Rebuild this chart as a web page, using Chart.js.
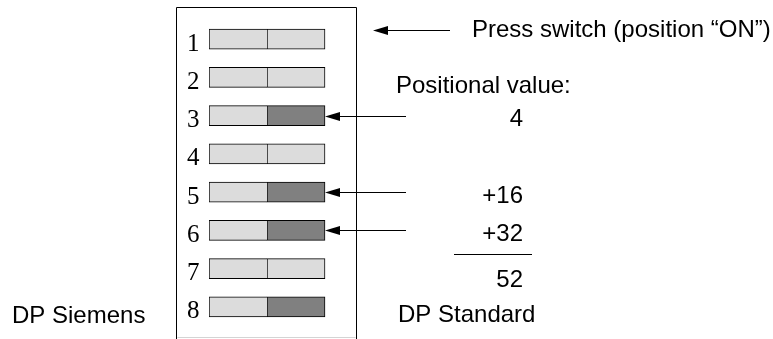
<!DOCTYPE html>
<html>
<head>
<meta charset="utf-8">
<script src="https://cdn.jsdelivr.net/npm/chart.js@4/dist/chart.umd.min.js"></script>
<style>
html, body { margin: 0; padding: 0; background: #fff; }
</style>
</head>
<body>
<canvas id="mycanvas" width="773" height="339"></canvas>
<script>
// switch positions and their state (1 = pressed / ON)
var positions = ['1', '2', '3', '4', '5', '6', '7', '8'];
var switchOn = [0, 0, 1, 0, 1, 1, 0, 1];
// address weights of switches 1..7 (switch 8 selects the DP mode)
var positionalValue = [1, 2, 4, 8, 16, 32, 64];
var leftHalf = [1, 1, 1, 1, 1, 1, 1, 1];
var rightHalf = [1, 1, 1, 1, 1, 1, 1, 1];

var topNote = 'Press switch (position \u201cON\u201d)';
var valueTitle = 'Positional value:';
var modeOff = 'DP Siemens';
var modeOn = 'DP Standard';

var light = '#dcdcdc';
var dark = '#808080';
var sans = '24px "Liberation Sans", Arial, Helvetica, sans-serif';

function arrow(ctx, tip, tail, y) {
	ctx.beginPath();
	ctx.moveTo(tip + 10, y);
	ctx.lineTo(tail, y);
	ctx.stroke();
	ctx.beginPath();
	ctx.moveTo(tip, y);
	ctx.lineTo(tip + 15, y - 4.5);
	ctx.lineTo(tip + 15, y + 4.5);
	ctx.closePath();
	ctx.fill();
}

var notes = {
	id: 'notes',
	afterDraw: function(chart) {
		var ctx = chart.ctx;
		var xs = chart.scales.x, ys = chart.scales.y;
		var area = chart.chartArea;
		var sw = xs.getPixelForValue(2); // right edge of the switches
		var row = function(i) { return ys.getPixelForValue(i); };

		ctx.save();
		ctx.strokeStyle = '#000';
		ctx.fillStyle = '#000';
		ctx.lineWidth = 1;

		// housing
		var fl = area.left - 32.5, fr = sw + 31.5, ft = area.top - 12.5, fb = 337.5;
		ctx.beginPath();
		ctx.moveTo(fl, chart.height);
		ctx.lineTo(fl, ft);
		ctx.lineTo(fr, ft);
		ctx.lineTo(fr, chart.height);
		ctx.stroke();
		ctx.strokeStyle = '#d4d4d4';
		ctx.beginPath();
		ctx.moveTo(fl + 1, fb);
		ctx.lineTo(fr - 1, fb);
		ctx.stroke();
		ctx.strokeStyle = '#000';

		ctx.font = sans;
		ctx.textBaseline = 'alphabetic';

		// top note
		var ty = Math.round(row(0) - 9) + 0.5;
		arrow(ctx, sw + 48, sw + 125, ty);
		ctx.textAlign = 'left';
		ctx.fillText(topNote, sw + 147, row(0) - 2);

		ctx.fillText(valueTitle, sw + 71, row(1) + 15.6);

		// arrows and values for the ON address switches
		var total = 0, first = true;
		for (var i = 0; i < positionalValue.length; i++) {
			if (!switchOn[i]) continue;
			var y = Math.round(row(i)) + 0.5;
			arrow(ctx, sw, sw + 81, y);
			ctx.textAlign = 'right';
			ctx.fillText((first ? '' : '+') + positionalValue[i], sw + 198, row(i) + 10.5);
			total += positionalValue[i];
			first = false;
		}
		var ly = Math.round(row(5) + 24) + 0.5;
		ctx.beginPath();
		ctx.moveTo(sw + 129, ly);
		ctx.lineTo(sw + 207, ly);
		ctx.stroke();
		ctx.textAlign = 'right';
		ctx.fillText(String(total), sw + 198, row(6) + 18);

		// mode switch labels
		ctx.textAlign = 'left';
		ctx.fillText(modeOff, 12, row(7) + 16);
		ctx.fillText(modeOn, sw + 73, row(7) + 15.5);

		ctx.restore();
	}
};

var ctx = document.getElementById('mycanvas');
var dipChart = new Chart(ctx, {
	type: 'bar',
	data: {
		labels: positions,
		datasets: [
			{
				label: 'left',
				data: leftHalf,
				backgroundColor: light,
				borderColor: '#000',
				borderWidth: { left: 1, top: 1, bottom: 1, right: 0 },
				borderSkipped: false,
				barThickness: 20
			},
			{
				label: 'right',
				data: rightHalf,
				backgroundColor: switchOn.map(function(s) { return s ? dark : light; }),
				borderColor: '#000',
				borderWidth: 1,
				borderSkipped: false,
				barThickness: 20
			}
		]
	},
	options: {
		responsive: false,
		animation: false,
		indexAxis: 'y',
		layout: { padding: { left: 187, right: 13, top: 20, bottom: 13 } },
		plugins: {
			legend: { display: false },
			tooltip: { enabled: false }
		},
		scales: {
			x: { display: false, stacked: true, min: 0, max: 9.5 },
			y: {
				stacked: true,
				grid: { display: false, drawTicks: false },
				border: { display: false },
				ticks: {
					color: '#000',
					padding: 0,
					crossAlign: 'far',
					labelOffset: 5,
					font: { family: '"Liberation Serif", "Times New Roman", serif', size: 25, lineHeight: 1 }
				},
				afterFit: function(scale) { scale.width = 22; }
			}
		}
	},
	plugins: [notes]
});
</script>
</body>
</html>
